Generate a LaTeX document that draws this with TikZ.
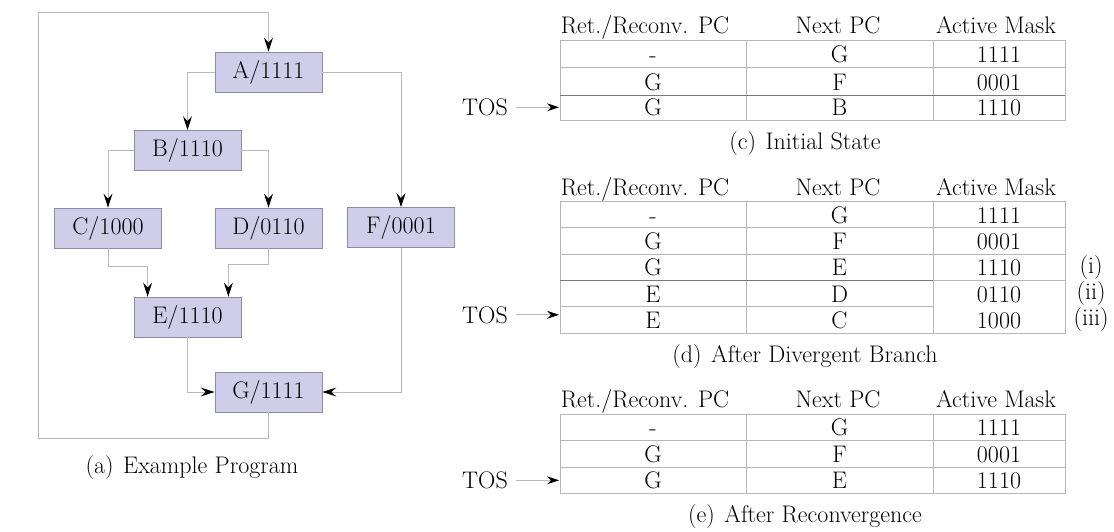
\documentclass[tikz,border=0pt]{standalone}
\usepackage{fontspec}
\usetikzlibrary{arrows.meta,calc}
\definecolor{boxfill}{RGB}{208,205,233}
\definecolor{boxline}{RGB}{140,140,170}
\definecolor{connline}{RGB}{185,185,185}
\definecolor{gridline}{RGB}{182,182,182}
\definecolor{griddark}{RGB}{120,120,120}
\begin{document}
\begin{tikzpicture}[x=1pt,y=-1pt,
  every node/.style={font=\fontsize{24}{28}\selectfont, inner sep=0pt},
  blk/.style={draw=boxline, fill=boxfill, line width=0.8pt, minimum width=107pt, minimum height=40pt},
  conn/.style={draw=connline, line width=1pt, -{Stealth[length=14pt,width=9pt,inset=5pt,black]}},
  plainline/.style={draw=connline, line width=1pt},
  gridln/.style={draw=gridline, line width=1pt},
  griddk/.style={draw=griddark, line width=1pt},
  cell/.style={anchor=base},
  tosarrow/.style={draw=connline, line width=1pt, -{Stealth[length=12pt,width=8pt,inset=4pt,black]}}]
\useasboundingbox (0,0) rectangle (1114,531);

% ---------- flowchart ----------
\node[blk] (A) at (268.5,72) {A/1111};
\node[blk] (B) at (187.5,150.5) {B/1110};
\node[blk] (C) at (108,228) {C/1000};
\node[blk] (D) at (268.5,228) {D/0110};
\node[blk] (F) at (401,227.5) {F/0001};
\node[blk] (E) at (187.5,317) {E/1110};
\node[blk] (G) at (268.5,392) {G/1111};

\draw[conn] (A.west) -| (B.north);
\draw[conn] (A.east) -| (F.north);
\draw[conn] (B.west) -| (C.north);
\draw[conn] (B.east) -| (D.north);
\coordinate (ce) at ([xshift=14pt]E.north west);
\coordinate (de) at ([xshift=-13pt]E.north east);
\draw[conn] (C.south) |- ([yshift=30pt]ce) -- (ce);
\draw[conn] (D.south) |- ([yshift=32pt]de) -- (de);
\draw[conn] (E.south) |- (G.west);
\draw[conn] (F.south) |- (G.east);
\coordinate (lb) at (38,438);
\coordinate (lt) at (38,12.7);
\draw[conn] (G.south) |- (lb) -- (lt) -| (A.north);

\node[cell] (capa) at (192,473) {(a)\hspace{0.4em}Example Program};

% ---------- table (c) ----------
\node[cell] (hc1) at (645,33) {Ret./Reconv. PC};
\node[cell] (hc2) at (838,33) {Next PC};
\node[cell] (hc3) at (996,33) {Active Mask};
\draw[gridln] (560,40.5) rectangle (1065,120.5);
\draw[gridln] (746,40.5) -- (746,120.5) (933,40.5) -- (933,120.5);
\draw[gridln] (560,67.5) -- (1065,67.5);
\draw[griddk] (560,95) -- (1065,95);
\node[cell] (c11) at (653,62.5) {-};
\node[cell] (c12) at (839.5,62.5) {G};
\node[cell] (c13) at (999,62.5) {1111};
\node[cell] (c21) at (653,90) {G};
\node[cell] (c22) at (839.5,90) {F};
\node[cell] (c23) at (999,90) {0001};
\node[cell] (c31) at (653,115.5) {G};
\node[cell] (c32) at (839.5,115.5) {B};
\node[cell] (c33) at (999,115.5) {1110};
\node[cell] (tosc) at (485,115.5) {TOS};
\coordinate (cL) at (559,0);
\draw[tosarrow] ([xshift=8pt]tosc.east) -- (tosc.east -| cL);
\node[cell] (capc) at (805,149) {(c)\hspace{0.4em}Initial State};

% ---------- table (d) ----------
\node[cell] (hd1) at (645,195) {Ret./Reconv. PC};
\node[cell] (hd2) at (838,195) {Next PC};
\node[cell] (hd3) at (996,195) {Active Mask};
\draw[gridln] (560,201.5) rectangle (1065,333);
\draw[gridln] (746,201.5) -- (746,333) (933,201.5) -- (933,333);
\draw[gridln] (560,227.8) -- (1065,227.8);
\draw[gridln] (560,254.1) -- (1065,254.1);
\draw[griddk] (560,280.4) -- (933,280.4);
\draw[gridln] (933,280.4) -- (1065,280.4);
\draw[gridln] (560,306.7) -- (933,306.7);
\node[cell] (d11) at (653,223.3) {-};
\node[cell] (d12) at (839.5,223.3) {G};
\node[cell] (d13) at (999,223.3) {1111};
\node[cell] (d21) at (653,249.6) {G};
\node[cell] (d22) at (839.5,249.6) {F};
\node[cell] (d23) at (999,249.6) {0001};
\node[cell] (d31) at (653,275.9) {G};
\node[cell] (d32) at (839.5,275.9) {E};
\node[cell] (d33) at (999,275.9) {1110};
\node[cell] (d41) at (653,302.2) {E};
\node[cell] (d42) at (839.5,302.2) {D};
\node[cell] (d43) at (999,302.2) {0110};
\node[cell] (d51) at (653,328.5) {E};
\node[cell] (d52) at (839.5,328.5) {C};
\node[cell] (d53) at (999,328.5) {1000};
\node[cell] (li) at (1091,273) {(i)};
\node[cell] (lii) at (1091,299.3) {(ii)};
\node[cell] (liii) at (1091,325.6) {(iii)};
\node[cell] (tosd) at (485,323) {TOS};
\draw[tosarrow] ([xshift=8pt]tosd.east) -- (tosd.east -| cL);
\node[cell] (capd) at (805,362) {(d)\hspace{0.4em}After Divergent Branch};

% ---------- table (e) ----------
\node[cell] (he1) at (645,407) {Ret./Reconv. PC};
\node[cell] (he2) at (838,407) {Next PC};
\node[cell] (he3) at (996,407) {Active Mask};
\draw[gridln] (560,414) rectangle (1065,493.5);
\draw[gridln] (746,414) -- (746,493.5) (933,414) -- (933,493.5);
\draw[gridln] (560,440.5) -- (1065,440.5);
\draw[gridln] (560,467) -- (1065,467);
\node[cell] (e11) at (653,435.5) {-};
\node[cell] (e12) at (839.5,435.5) {G};
\node[cell] (e13) at (999,435.5) {1111};
\node[cell] (e21) at (653,462) {G};
\node[cell] (e22) at (839.5,462) {F};
\node[cell] (e23) at (999,462) {0001};
\node[cell] (e31) at (653,488.5) {G};
\node[cell] (e32) at (839.5,488.5) {E};
\node[cell] (e33) at (999,488.5) {1110};
\node[cell] (tose) at (485,488.5) {TOS};
\draw[tosarrow] ([xshift=8pt]tose.east) -- (tose.east -| cL);
\node[cell] (cape) at (805,522) {(e)\hspace{0.4em}After Reconvergence};
\end{tikzpicture}
\end{document}
